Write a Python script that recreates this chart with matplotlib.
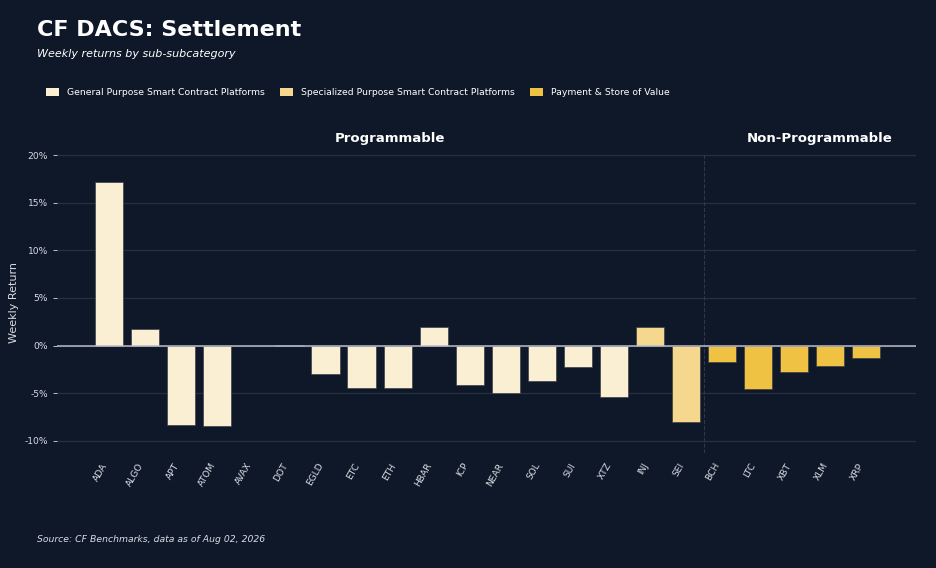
import matplotlib.pyplot as plt
from matplotlib.patches import Patch
from matplotlib.ticker import FuncFormatter

# weekly returns (%)
tickers = ['ADA', 'ALGO', 'APT', 'ATOM', 'AVAX', 'DOT', 'EGLD', 'ETC', 'ETH', 'HBAR',
           'ICP', 'NEAR', 'SOL', 'SUI', 'XTZ', 'INJ', 'SEI',
           'BCH', 'LTC', 'XBT', 'XLM', 'XRP']
returns = [17.2, 1.75, -8.4, -8.45, 0.0, 0.1, -3.0, -4.45, -4.45, 1.95,
           -4.15, -5.0, -3.75, -2.3, -5.4, 1.95, -8.05,
           -1.7, -4.55, -2.75, -2.15, -1.35]
subcats = ['General'] * 15 + ['Specialized'] * 2 + ['Payment'] * 5

sub_names = {
    'General': 'General Purpose Smart Contract Platforms',
    'Specialized': 'Specialized Purpose Smart Contract Platforms',
    'Payment': 'Payment & Store of Value',
}
sub_colors = {'General': '#FBEFD3', 'Specialized': '#F5D78D', 'Payment': '#F0C244'}

BG = '#0F1829'
GRID = '#263041'
TXT = '#D8DCE3'

fig = plt.figure(figsize=(9.36, 5.68), dpi=100, facecolor=BG)
ax = fig.add_axes([0.061, 0.2025, 0.918, 0.529])
ax.set_facecolor(BG)

x = list(range(len(tickers)))
colors = [sub_colors[s] for s in subcats]
ax.bar(x, returns, width=0.78, color=colors, edgecolor='#3a3f48', linewidth=0.5, zorder=3)

ax.axhline(0, color='#B8BEC8', linewidth=1.1, zorder=4)
ax.axvline(16.5, color='#2E384A', linestyle='--', linewidth=0.8, zorder=2)

ax.set_xlim(-1.45, 22.4)
ax.set_ylim(-11.3, 20.3)
ax.set_yticks([-10, -5, 0, 5, 10, 15, 20])
ax.yaxis.set_major_formatter(FuncFormatter(lambda v, p: f'{v:.0f}%'))
ax.grid(axis='y', color=GRID, linewidth=0.9, zorder=0)

ax.set_xticks(x)
ax.set_xticklabels(tickers, rotation=60, ha='right', fontsize=6.6, color=TXT)
ax.tick_params(axis='x', length=0, pad=6)
ax.tick_params(axis='y', colors=TXT, labelsize=6.6, length=3, width=0.6)
for sp in ax.spines.values():
    sp.set_visible(False)

ax.set_ylabel('Weekly Return', color=TXT, fontsize=8)
ax.yaxis.set_label_coords(-0.044, 0.5)

# group headers
ax.text(7.78, 21.05, 'Programmable', color='white', fontsize=9.5, fontweight='bold',
        ha='center', va='bottom')
ax.text(19.72, 21.05, 'Non-Programmable', color='white', fontsize=9.5, fontweight='bold',
        ha='center', va='bottom')

fig.text(0.04, 0.947, 'CF DACS: Settlement', color='white', fontsize=16,
         fontweight='bold', va='center')
fig.text(0.04, 0.905, 'Weekly returns by sub-subcategory', color='white',
         fontsize=8, style='italic', va='center')

handles = [Patch(facecolor=sub_colors[k], edgecolor='none', label=sub_names[k])
           for k in ['General', 'Specialized', 'Payment']]
leg = fig.legend(handles=handles, loc='center left', bbox_to_anchor=(0.04, 0.837),
                 ncol=3, frameon=False, fontsize=6.65, handlelength=1.4, handleheight=1.0,
                 handletextpad=0.85, columnspacing=1.7)
for t in leg.get_texts():
    t.set_color('white')

fig.text(0.04, 0.05, 'Source: CF Benchmarks, data as of Aug 02, 2026', color=TXT,
         fontsize=6.7, style='italic', va='center')

fig.savefig('out.png', dpi=100, facecolor=BG)
